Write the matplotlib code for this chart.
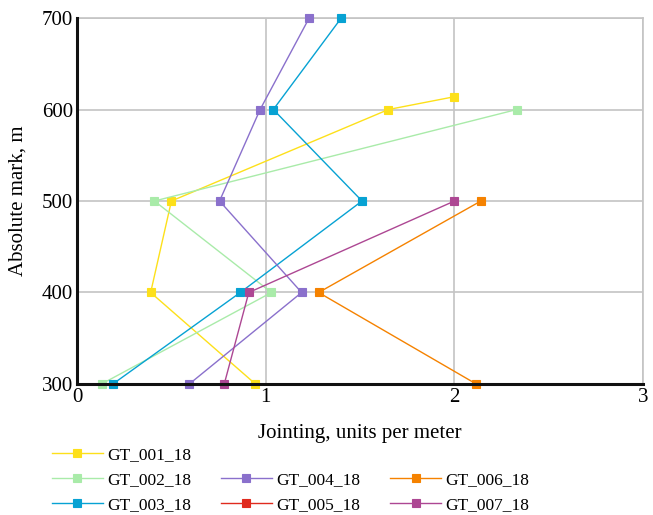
import matplotlib
matplotlib.use("Agg")
import matplotlib.pyplot as plt
from matplotlib.lines import Line2D

plt.rcParams['font.family'] = ['Liberation Serif', 'DejaVu Serif']

# jointing (units per meter) vs absolute mark (m)
names = ['GT_001_18', 'GT_002_18', 'GT_003_18', 'GT_004_18', 'GT_005_18', 'GT_006_18', 'GT_007_18']
colors = ['#fde01a', '#a9eba9', '#07a2d3', '#8a70cc', '#e02a1e', '#f58200', '#ad4793']

gt001_x = [2.0, 1.65, 0.50, 0.39, 0.945]
gt001_y = [614, 600, 500, 400, 300]
gt002_x = [2.33, 0.41, 1.03, 0.13]
gt002_y = [600, 500, 400, 300]
gt003_x = [1.40, 1.04, 1.51, 0.865, 0.19]
gt003_y = [700, 600, 500, 400, 300]
gt004_x = [1.23, 0.97, 0.755, 1.19, 0.595]
gt004_y = [700, 600, 500, 400, 300]
gt005_x = []
gt005_y = []
gt006_x = [2.14, 1.28, 2.115]
gt006_y = [500, 400, 300]
gt007_x = [2.0, 0.91, 0.78]
gt007_y = [500, 400, 300]

series_x = [gt001_x, gt002_x, gt003_x, gt004_x, gt005_x, gt006_x, gt007_x]
series_y = [gt001_y, gt002_y, gt003_y, gt004_y, gt005_y, gt006_y, gt007_y]

fig = plt.figure(figsize=(6.53, 5.15), dpi=100)
ax = fig.add_axes([0.118, 0.2544, 0.867, 0.7106])

handles = []
for xs, ys, c, n in zip(series_x, series_y, colors, names):
    h, = ax.plot(xs, ys, color=c, lw=1.0, marker='s', ms=6.3,
                 markeredgecolor=c, markeredgewidth=0.8, label=n, zorder=3, clip_on=False)
    handles.append(h)

ax.set_xlim(0, 3)
ax.set_ylim(300, 700)
ax.set_xticks([0, 1, 2, 3])
ax.set_yticks([300, 400, 500, 600, 700])
ax.grid(True, color='#c4c4c4', lw=1.2)
ax.set_axisbelow(True)
ax.tick_params(length=0, labelsize=15, pad=3)
for s in ['top', 'right']:
    ax.spines[s].set_color('#c4c4c4')
    ax.spines[s].set_linewidth(1.2)
for s in ['left', 'bottom']:
    ax.spines[s].set_color('#111111')
    ax.spines[s].set_linewidth(2.2)
    ax.spines[s].set_zorder(4)

ax.set_xlabel('Jointing, units per meter', fontsize=15, labelpad=12)
ax.set_ylabel('Absolute mark, m', fontsize=15, labelpad=10)

blank = Line2D([], [], linestyle='none')
order = [handles[0], handles[1], handles[2], blank, handles[3], handles[4],
         blank, handles[5], handles[6]]
labels = [h.get_label() if h is not blank else '' for h in order]
fig.legend(order, labels, ncol=3, loc='upper left', bbox_to_anchor=(0.08, 0.133),
           frameon=False, fontsize=12.5, handlelength=2.9, columnspacing=1.75,
           handletextpad=0.25, labelspacing=0.52, borderaxespad=0, borderpad=0)

fig.savefig('out.png', dpi=100)
